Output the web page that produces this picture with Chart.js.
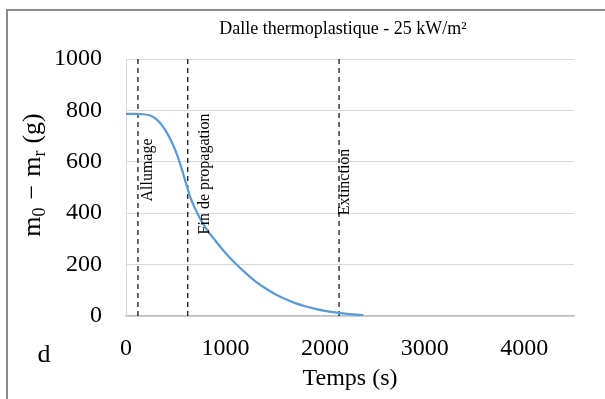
<!DOCTYPE html>
<html>
<head>
<meta charset="utf-8">
<script src="https://cdn.jsdelivr.net/npm/chart.js@4"></script>
<style>
  body { margin: 0; background: #fff; }
  #wrap { width: 605px; height: 399px; }
</style>
</head>
<body>
<div id="wrap"><canvas id="massChart" width="605" height="399"></canvas></div>
<script>
// values
const timeS = [0, 100, 180, 250, 310, 370, 430, 490, 550, 600, 650, 700, 750, 800, 900,
  1000, 1100, 1200, 1300, 1400, 1500, 1600, 1700, 1800, 1900, 2000, 2140, 2250, 2383];
const massG = [786, 786, 785, 779, 764, 738, 700, 650, 585, 520, 458, 413, 375, 343, 292,
  245, 204, 168, 135, 108, 85, 66, 50, 38, 28, 20, 12, 7, 3];
const markerTimes = [120, 620, 2140];
const markerNames = ['Allumage', 'Fin de propagation', 'Extinction'];
const xTicks = [0, 1000, 2000, 3000, 4000];
const yTicks = [0, 200, 400, 600, 800, 1000];

const FONT = "'Liberation Serif', 'Times New Roman', serif";

const curve = timeS.map((t, i) => ({ x: t, y: massG[i] }));

const markerSets = markerTimes.map((t, i) => ({
  label: markerNames[i],
  data: [{ x: t, y: yTicks[0] }, { x: t, y: yTicks[yTicks.length - 1] }],
  borderColor: '#1a1a1a',
  borderWidth: 1.3,
  borderDash: [5, 4],
  pointRadius: 0,
  tension: 0
}));

// extra text: frame, title, y title with subscripts, panel letter, marker labels
const decorations = {
  id: 'decorations',
  beforeDraw(chart) {
    const ctx = chart.ctx;
    ctx.save();
    ctx.fillStyle = '#fff';
    ctx.fillRect(0, 0, chart.width, chart.height);
    ctx.restore();
  },
  afterDraw(chart) {
    const ctx = chart.ctx;
    const xs = chart.scales.x;
    ctx.save();

    // frame (only left and top are visible)
    ctx.strokeStyle = '#8c8c8c';
    ctx.lineWidth = 2;
    ctx.beginPath();
    ctx.moveTo(7, chart.height);
    ctx.lineTo(7, 10);
    ctx.lineTo(chart.width, 10);
    ctx.stroke();

    ctx.fillStyle = '#000';

    // title
    ctx.font = '18px ' + FONT;
    ctx.textAlign = 'center';
    ctx.textBaseline = 'middle';
    ctx.fillText('Dalle thermoplastique - 25 kW/m²', 343, 29);

    // panel letter
    ctx.font = '26px ' + FONT;
    ctx.fillText('d', 44, 355);

    // y title m0 − mr (g)
    const parts = [
      { t: 'm', sub: false, gap: 0 },
      { t: '0', sub: true, gap: 8 },
      { t: '−', sub: false, gap: 8 },
      { t: 'm', sub: false, gap: 0 },
      { t: 'r', sub: true, gap: 7 },
      { t: '(g)', sub: false, gap: 0 }
    ];
    const big = '26px ' + FONT, small = '18px ' + FONT;
    let total = 0;
    parts.forEach(p => { ctx.font = p.sub ? small : big; total += ctx.measureText(p.t).width + p.gap; });
    ctx.translate(40, 175);
    ctx.rotate(-Math.PI / 2);
    ctx.textAlign = 'left';
    ctx.textBaseline = 'alphabetic';
    let cx = -total / 2;
    parts.forEach(p => {
      ctx.font = p.sub ? small : big;
      ctx.fillText(p.t, cx, p.sub ? 5 : 0);
      cx += ctx.measureText(p.t).width + p.gap;
    });
    ctx.setTransform(1, 0, 0, 1, 0, 0);

    // marker labels, rotated
    const offs = [2, 9, -2];
    const centers = [170, 174, 182];
    ctx.font = '16px ' + FONT;
    ctx.textAlign = 'center';
    ctx.textBaseline = 'top';
    markerTimes.forEach((t, i) => {
      const px = xs.getPixelForValue(t) + offs[i];
      ctx.save();
      ctx.translate(px, centers[i]);
      ctx.rotate(-Math.PI / 2);
      ctx.fillText(markerNames[i], 0, 0);
      ctx.restore();
    });

    ctx.restore();
  }
};

new Chart(document.getElementById('massChart'), {
  type: 'line',
  data: {
    datasets: [
      {
        label: 'm0 - mr',
        data: curve,
        borderColor: '#5b9bd5',
        borderWidth: 2.25,
        pointRadius: 0,
        cubicInterpolationMode: 'monotone'
      },
      ...markerSets
    ]
  },
  options: {
    responsive: false,
    animation: false,
    layout: { padding: { top: 59, right: 31, left: 0, bottom: 0 } },
    plugins: {
      legend: { display: false },
      tooltip: { enabled: false },
      title: { display: false }
    },
    scales: {
      x: {
        type: 'linear',
        min: 0,
        max: 4500,
        afterBuildTicks: s => { s.ticks = xTicks.map(v => ({ value: v })); },
        afterFit: s => { s.height = 83; },
        grid: { display: false },
        border: { display: true, color: '#bfbfbf', width: 1.5 },
        ticks: {
          color: '#000',
          font: { family: FONT, size: 24 },
          padding: 10,
          maxRotation: 0,
          callback: v => String(v)
        },
        title: {
          display: true,
          text: 'Temps (s)',
          color: '#000',
          font: { family: FONT, size: 24 },
          padding: { top: 0, bottom: 6 }
        }
      },
      y: {
        min: 0,
        max: 1000,
        afterBuildTicks: s => { s.ticks = yTicks.map(v => ({ value: v })); },
        afterFit: s => { s.width = 126; },
        grid: { color: '#d9d9d9', lineWidth: 1, drawTicks: false },
        border: { display: true, color: '#d9d9d9' },
        ticks: {
          color: '#000',
          font: { family: FONT, size: 24 },
          padding: 24,
          callback: v => String(v)
        }
      }
    }
  },
  plugins: [decorations]
});
</script>
</body>
</html>
